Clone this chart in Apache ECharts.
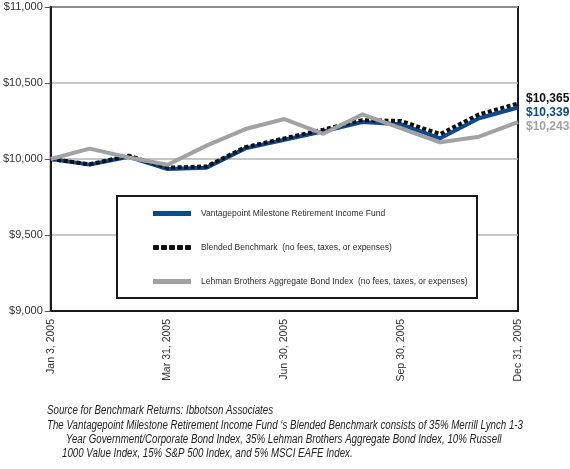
<!DOCTYPE html>
<html>
<head>
<meta charset="utf-8">
<script src="https://cdn.jsdelivr.net/npm/echarts@6/dist/echarts.min.js"></script>
<style>
html,body{margin:0;padding:0;background:#fff;}
#c{width:570px;height:469px;}
</style>
</head>
<body>
<div id="c"></div>
<script>
var categories = ["Jan 3, 2005","Jan 31, 2005","Feb 28, 2005","Mar 31, 2005","Apr 30, 2005","May 31, 2005","Jun 30, 2005","Jul 31, 2005","Aug 31, 2005","Sep 30, 2005","Oct 31, 2005","Nov 30, 2005","Dec 31, 2005"];
var fundValues = [10000, 9963, 10015, 9934, 9943, 10070, 10127, 10182, 10243, 10228, 10136, 10268, 10339];
var blendedValues = [10000, 9965, 10022, 9943, 9951, 10078, 10136, 10193, 10256, 10250, 10164, 10294, 10365];
var lehmanValues = [10000, 10068, 10010, 9962, 10088, 10197, 10263, 10166, 10293, 10202, 10110, 10147, 10243];
var seriesNames = ["Vantagepoint Milestone Retirement Income Fund", "Blended Benchmark  (no fees, taxes, or expenses)", "Lehman Brothers Aggregate Bond Index  (no fees, taxes, or expenses)"];
var yTicks = [9000, 9500, 10000, 10500, 11000];
var footnotes = [
  "Source for Benchmark Returns: Ibbotson Associates",
  "The Vantagepoint Milestone Retirement Income Fund \u2018s Blended Benchmark consists of 35% Merrill Lynch 1-3",
  "Year Government/Corporate Bond Index, 35% Lehman Brothers Aggregate Bond Index, 10% Russell",
  "1000 Value Index, 15% S&P 500 Index, and 5% MSCI EAFE Index."
];

var FONT = '"Liberation Sans", Arial, sans-serif';
function money(v){ return '$' + v.toLocaleString('en-US'); }

// horizontal condensing factor for the footnote (reference uses a condensed face)
var mctx = document.createElement('canvas').getContext('2d');
var FOOT_FONT = 'italic 12.5px ' + FONT;
mctx.font = FOOT_FONT;
var footScale = 476 / mctx.measureText(footnotes[1]).width;

var solidIcon = 'path://M0,0L38,0L38,5L0,5Z';
var dotIcon = 'path://M0,1Q0,0 1,0L5,0Q6,0 6,1L6,4Q6,5 5,5L1,5Q0,5 0,4Z M8,1Q8,0 9,0L13,0Q14,0 14,1L14,4Q14,5 13,5L9,5Q8,5 8,4Z M16,1Q16,0 17,0L21,0Q22,0 22,1L22,4Q22,5 21,5L17,5Q16,5 16,4Z M24,1Q24,0 25,0L29,0Q30,0 30,1L30,4Q30,5 29,5L25,5Q24,5 24,4Z M32,1Q32,0 33,0L37,0Q38,0 38,1L38,4Q38,5 37,5L33,5Q32,5 32,4Z';

var chart = echarts.init(document.getElementById('c'), null, {renderer:'canvas'});
function endLab(color, dy){
  return {show:true, formatter:function(p){return money(p.value);}, color:color, fontFamily:FONT, fontWeight:'bold', fontSize:12, distance:8, offset:[0,dy]};
}
chart.setOption({
  animation:false,
  backgroundColor:'#fff',
  grid:{left:48, right:52, top:7, bottom:158, show:true, borderColor:'#1a1a1a', borderWidth:2, backgroundColor:'transparent'},
  xAxis:{
    type:'category', data:categories, boundaryGap:false,
    axisLine:{show:true, lineStyle:{color:'#1a1a1a', width:2}},
    axisTick:{show:false},
    axisLabel:{interval:2, rotate:90, color:'#333', fontFamily:FONT, fontSize:10.5, margin:8}
  },
  yAxis:{
    type:'value', min:yTicks[0], max:yTicks[yTicks.length-1], interval:500,
    axisLine:{show:true, lineStyle:{color:'#1a1a1a', width:2}},
    axisTick:{show:true, length:6, lineStyle:{color:'#555'}},
    axisLabel:{color:'#333', fontFamily:FONT, fontSize:11, margin:8, formatter:function(v){return money(v);}},
    splitLine:{show:true, lineStyle:{color:'#b3b3b3', width:1.5}}
  },
  legend:{
    orient:'vertical', left:148, top:204, itemWidth:38, itemHeight:5, itemGap:25, z:20,
    textStyle:{color:'#2a2a2a', fontFamily:FONT, fontSize:8.5, padding:[0,0,0,5]},
    data:[
      {name:seriesNames[0], icon:solidIcon},
      {name:seriesNames[1], icon:dotIcon},
      {name:seriesNames[2], icon:solidIcon}
    ]
  },
  graphic:[
    {type:'rect', z:15, shape:{x:117, y:196, width:360, height:102}, style:{fill:'#fff', stroke:'#1a1a1a', lineWidth:2}}
  ].concat(footnotes.map(function(t,i){
    var xs=[47,47,66,62], ys=[411,426,440,454];
    return {type:'text', z:20, x:xs[i], y:ys[i], scaleX:footScale, scaleY:1, originX:0, originY:0,
            style:{text:t, fill:'#222', font:FOOT_FONT, textVerticalAlign:'middle', verticalAlign:'middle'}};
  })),
  series:[
    {name:seriesNames[0], type:'line', data:fundValues, symbol:'none', z:3,
     lineStyle:{color:'#0c4a8e', width:4}, itemStyle:{color:'#0c4a8e'},
     endLabel:endLab('#0c4a8e', 5.5)},
    {name:seriesNames[1], type:'line', data:blendedValues, symbol:'none', z:4,
     lineStyle:{color:'#111', width:4, type:[4,2.5]}, itemStyle:{color:'#111'},
     endLabel:endLab('#111', -4.5)},
    {name:seriesNames[2], type:'line', data:lehmanValues, symbol:'none', z:5,
     lineStyle:{color:'#a2a2a2', width:4}, itemStyle:{color:'#a2a2a2'},
     endLabel:endLab('#a2a2a2', 5)}
  ]
});
</script>
</body>
</html>
